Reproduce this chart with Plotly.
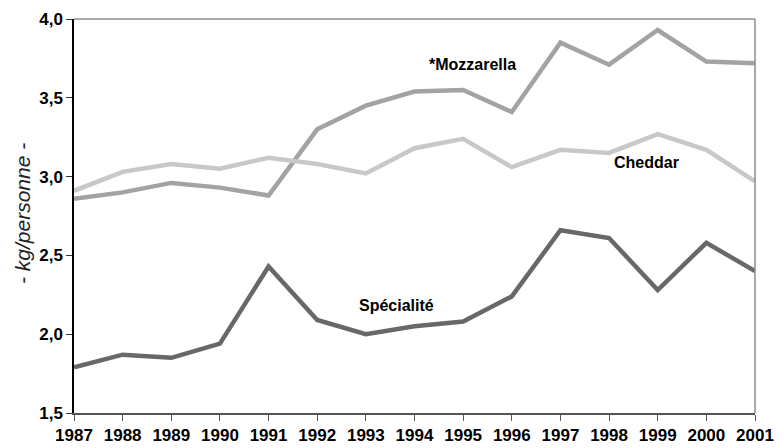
import plotly.graph_objects as go

years = list(range(1987, 2002))
mozzarella = [2.86, 2.90, 2.96, 2.93, 2.88, 3.30, 3.45, 3.54, 3.55, 3.41, 3.85, 3.71, 3.93, 3.73, 3.72]
cheddar = [2.91, 3.03, 3.08, 3.05, 3.12, 3.08, 3.02, 3.18, 3.24, 3.06, 3.17, 3.15, 3.27, 3.17, 2.97]
specialite = [1.79, 1.87, 1.85, 1.94, 2.43, 2.09, 2.00, 2.05, 2.08, 2.24, 2.66, 2.61, 2.28, 2.58, 2.40]
tick_years = [str(y) for y in years]
y_ticks = [1.5, 2.0, 2.5, 3.0, 3.5, 4.0]

FONT = "Liberation Sans, Arial, sans-serif"

fig = go.Figure()
fig.add_trace(go.Scatter(x=years, y=specialite, mode="lines", name="Spécialité",
                         line=dict(color="#686868", width=4.5)))
fig.add_trace(go.Scatter(x=years, y=mozzarella, mode="lines", name="*Mozzarella",
                         line=dict(color="#a3a3a3", width=4.5)))
fig.add_trace(go.Scatter(x=years, y=cheddar, mode="lines", name="Cheddar",
                         line=dict(color="#c8c8c8", width=4.5)))

fig.update_layout(
    width=783, height=448,
    margin=dict(l=74, r=28, t=19, b=35, autoexpand=False),
    paper_bgcolor="white", plot_bgcolor="white",
    showlegend=False,
    separators=",.",
    font=dict(family=FONT, color="black"),
    xaxis=dict(
        range=[1987, 2001], tickvals=years, ticktext=tick_years,
        showgrid=False, zeroline=False, automargin=False,
        showline=True, linecolor="#555555", linewidth=2,
        ticks="outside", ticklen=6, tickcolor="#555555", tickwidth=1,
        tickfont=dict(family=FONT, size=17, color="black", weight="bold"),
    ),
    yaxis=dict(
        range=[1.5, 4.0], tickvals=y_ticks, tickformat=".1f",
        showgrid=False, zeroline=False, automargin=False,
        showline=True, linecolor="black", linewidth=1.5,
        ticks="outside", ticklen=6, tickcolor="#333333", tickwidth=1,
        tickfont=dict(family=FONT, size=17, color="black", weight="bold"),
    ),
    shapes=[
        dict(type="line", xref="paper", yref="paper", x0=0, x1=1, y0=1, y1=1,
             line=dict(color="#8c8c8c", width=1.5)),
        dict(type="line", xref="paper", yref="paper", x0=1, x1=1, y0=0, y1=1,
             line=dict(color="#8c8c8c", width=1.5)),
    ],
    annotations=[
        dict(text="- kg/personne -", xref="paper", yref="paper",
             x=(22 - 74) / 681, y=0.505, xanchor="center", yanchor="middle",
             textangle=-90, showarrow=False,
             font=dict(family=FONT, size=21, color="#222222", style="italic")),
        dict(text="*Mozzarella", x=1995.19, y=3.714, showarrow=False,
             font=dict(family=FONT, size=16, color="black", weight="bold")),
        dict(text="Cheddar", x=1998.77, y=3.091, showarrow=False,
             font=dict(family=FONT, size=16, color="black", weight="bold")),
        dict(text="Spécialité", x=1993.63, y=2.185, showarrow=False,
             font=dict(family=FONT, size=16, color="black", weight="bold")),
    ],
)

fig.write_html("out.html", config={"displayModeBar": False},
               post_script="document.body.style.margin='0';document.body.style.overflow='hidden';")
